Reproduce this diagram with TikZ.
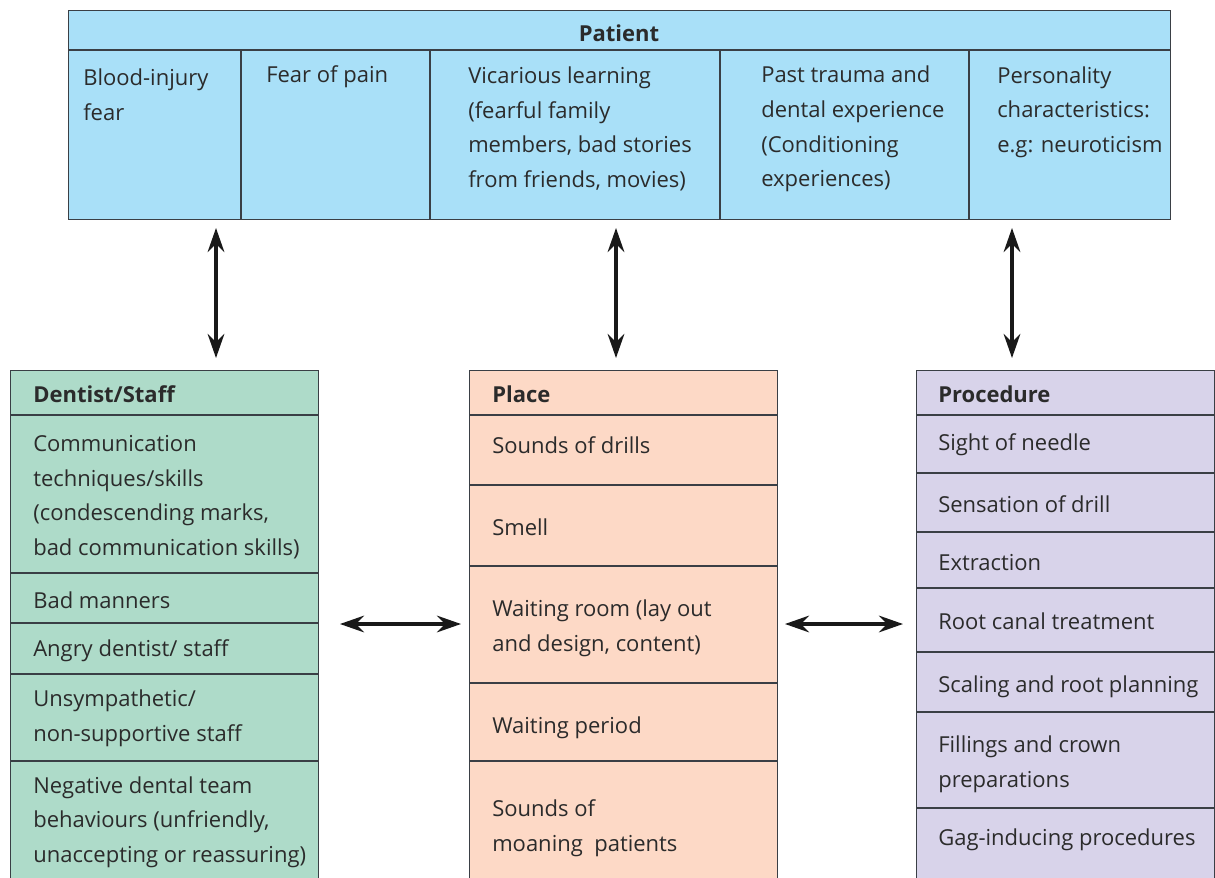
\documentclass[tikz,border=0pt]{standalone}
\usepackage{fontspec}
\setmainfont{Open Sans}
\usetikzlibrary{arrows.meta}
\definecolor{pblue}{HTML}{A9E0F8}
\definecolor{dgreen}{HTML}{AEDBC9}
\definecolor{plpeach}{HTML}{FDD9C6}
\definecolor{prlav}{HTML}{D8D3EA}
\definecolor{edgec}{HTML}{3A3F45}
\definecolor{txtc}{HTML}{2B2B2B}
\tikzset{
  panel/.style={draw=edgec, line width=0.9pt, inner sep=0pt, anchor=north west},
  divider/.style={draw=edgec, line width=0.9pt},
  cell/.style={anchor=west, align=left, inner sep=0pt, text=txtc, font=\fontsize{16.5}{26}\selectfont},
  headtext/.style={cell, font=\fontsize{16.5}{26}\selectfont\bfseries},
  tipshape/.tip={Stealth[length=18pt,width=12.5pt,inset=6pt]},
  arr/.style={tipshape-tipshape, line width=2.3pt, draw=black!90}
}
\begin{document}
\begin{tikzpicture}[x=0.75pt,y=-0.75pt]
\useasboundingbox (0,0) rectangle (1215,878);
\clip (0,0) rectangle (1215,878);
% Patient
\node[panel, fill=pblue, minimum width=1102*0.75pt, minimum height=209*0.75pt] (patient) at (68,10) {};
\draw[divider] (68,50) -- (1170,50);
\foreach \xx in {241,430,720,969} \draw[divider] (\xx,50) -- (\xx,219);
\node[headtext, anchor=center] (pathead) at (619,33) {Patient};
\node[cell] (p1) at (83,94.5) {Blood-injury\\fear};
\node[cell] (p2) at (266,77) {Fear of pain};
\node[cell] (p3) at (468,129) {Vicarious learning\\(fearful family\\members, bad stories\\from friends, movies)};
\node[cell] (p4) at (761,129) {Past trauma and\\dental experience\\(Conditioning\\experiences)};
\node[cell] (p5) at (997,112) {Personality\\characteristics:\\e.g: neuroticism};
% Dentist
\node[panel, fill=dgreen, minimum width=308*0.75pt, minimum height=530*0.75pt] (dent) at (10,370) {};
\foreach \yy in {415,573,623,674,761} \draw[divider] (10,\yy) -- (318,\yy);
\node[headtext] (dhead) at (33,394) {Dentist/Staff};
\node[cell] (d1) at (33,497) {Communication\\techniques/skills\\(condescending marks,\\bad communication skills)};
\node[cell] (d2) at (33,600) {Bad manners};
\node[cell] (d3) at (33,651) {Angry dentist/ staff};
\node[cell] (d4) at (33,718.5) {Unsympathetic/\\non-supportive staff};
\node[cell] (d5) at (33,822) {Negative dental team\\behaviours (unfriendly,\\unaccepting or reassuring)};
% Place
\node[panel, fill=plpeach, minimum width=308*0.75pt, minimum height=530*0.75pt] (place) at (469,370) {};
\foreach \yy in {415,485,566,683,761} \draw[divider] (469,\yy) -- (777,\yy);
\node[headtext] (plhead) at (492,394) {Place};
\node[cell] (l1) at (492,445) {Sounds of drills};
\node[cell] (l2) at (492,527) {Smell};
\node[cell] (l3) at (492,628) {Waiting room (lay out\\and design, content)};
\node[cell] (l4) at (492,728) {Waiting period};
\node[cell] (l5) at (492,828.5) {Sounds of\\moaning\ \ patients};
% Procedure
\node[panel, fill=prlav, minimum width=298*0.75pt, minimum height=530*0.75pt] (proc) at (916,370) {};
\foreach \yy in {415,473,532,588,652,712,808} \draw[divider] (916,\yy) -- (1215,\yy);
\node[headtext] (prhead) at (938,394) {Procedure};
\node[cell] (r1) at (938,445) {Sight of needle};
\node[cell] (r2) at (938,504) {Sensation of drill};
\node[cell] (r3) at (938,563) {Extraction};
\node[cell] (r4) at (938,621) {Root canal treatment};
\node[cell] (r5) at (938,687) {Scaling and root planning};
\node[cell] (r6) at (938,764.5) {Fillings and crown\\preparations};
\node[cell] (r7) at (938,840) {Gag-inducing procedures};
% arrows
\coordinate (v1a) at (216,228); \coordinate (v1b) at (216,358);
\coordinate (v2a) at (616,228); \coordinate (v2b) at (616,358);
\coordinate (v3a) at (1012,228); \coordinate (v3b) at (1012,358);
\coordinate (h1a) at (340,624); \coordinate (h1b) at (461,624);
\coordinate (h2a) at (785,624); \coordinate (h2b) at (903,624);
\draw[arr] (v1a) -- (v1b);
\draw[arr] (v2a) -- (v2b);
\draw[arr] (v3a) -- (v3b);
\draw[arr] (h1a) -- (h1b);
\draw[arr] (h2a) -- (h2b);
\end{tikzpicture}
\end{document}
